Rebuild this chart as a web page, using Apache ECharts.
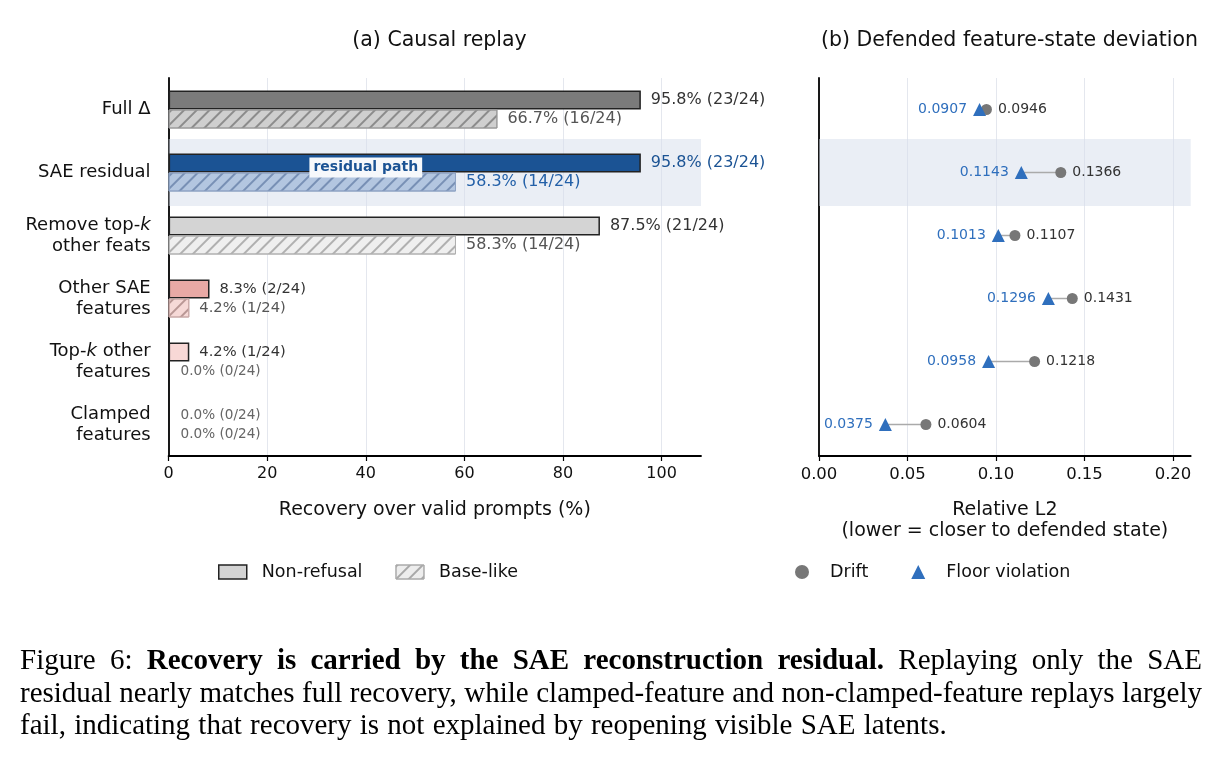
<!DOCTYPE html>
<html>
<head>
<meta charset="utf-8">
<script src="https://cdn.jsdelivr.net/npm/echarts@6/dist/echarts.min.js"></script>
<style>
  body { margin: 0; background: #fff; }
  #container { width: 1220px; height: 761px; }
  #caption {
    position: absolute; left: 20px; top: 643px; width: 1182px;
    font-family: "Liberation Serif", serif; font-size: 29px; line-height: 32.5px; color: #000;
  }
  #caption div { text-align: justify; text-align-last: justify; white-space: nowrap; }
  #caption div.last { text-align-last: left; word-spacing: 1px; }
</style>
</head>
<body>
<div id="container"></div>
<div id="caption">
  <div>Figure 6: <b>Recovery is carried by the SAE reconstruction residual.</b> Replaying only the SAE</div>
  <div>residual nearly matches full recovery, while clamped-feature and non-clamped-feature replays largely</div>
  <div class="last">fail, indicating that recovery is not explained by reopening visible SAE latents.</div>
</div>
<script>
const container = document.getElementById('container');
const chart = echarts.init(container, undefined, { renderer: 'canvas' });

// 数据
const categories = ['Full Δ', 'SAE residual', 'Remove top-k other feats', 'Other SAE features', 'Top-k other features', 'Clamped features'];
const nonRefusal = [95.8, 95.8, 87.5, 8.3, 4.2, 0.0];
const nonRefusalN = [23, 23, 21, 2, 1, 0];
const baseLike = [66.7, 58.3, 58.3, 4.2, 0.0, 0.0];
const baseLikeN = [16, 14, 14, 1, 0, 0];
const totalPrompts = 24;
const driftVals = [0.0946, 0.1366, 0.1107, 0.1431, 0.1218, 0.0604];
const floorVals = [0.0907, 0.1143, 0.1013, 0.1296, 0.0958, 0.0375];
const recoveryTicks = [0, 20, 40, 60, 80, 100];
const l2Ticks = [0, 0.05, 0.10, 0.15, 0.20];
const highlightRow = 'SAE residual';

// y轴文字 (k 为斜体)
const yLabelText = {
  'Full Δ': 'Full Δ',
  'SAE residual': 'SAE residual',
  'Remove top-k other feats': 'Remove top-{it|k}\nother feats',
  'Other SAE features': 'Other SAE\nfeatures',
  'Top-k other features': 'Top-{it|k} other\nfeatures',
  'Clamped features': 'Clamped\nfeatures'
};

// 样式
const topFill = ['#7b7b7b', '#1b5394', '#d4d4d4', '#e8a9a5', '#f8d8d6', '#f8d8d6'];
const baseFill = ['#cfcfcf', '#b3c6e0', '#efefef', '#f6d9d7', '#f6d9d7', '#f6d9d7'];
const baseEdge = ['#9a9a9a', '#8ea3c4', '#b0b0b0', '#c9a9a7', '#c9a9a7', '#c9a9a7'];
const hatchCol = ['#8c8c8c', '#7890b5', '#b0b0b0', '#b99795', '#b99795', '#b99795'];
const topLabelCol = ['#333', '#1b5394', '#333', '#333', '#333', '#666'];
const baseLabelCol = ['#555', '#2360a8', '#555', '#555', '#666', '#666'];

const hatch = (c) => ({
  symbol: 'rect', symbolSize: 1, color: c,
  dashArrayX: [1, 0], dashArrayY: [1.2, 6.8], rotation: -Math.PI / 4
});
const labelSize = (v, i) => (v === 0 ? 13.6 : (i < 3 ? 16 : 14.7));
const pctLabel = (v, n) => v.toFixed(1) + '% (' + n + '/' + totalPrompts + ')';

const topData = categories.map((c, i) => ({
  value: nonRefusal[i],
  itemStyle: { color: topFill[i], borderColor: '#222', borderWidth: nonRefusal[i] === 0 ? 0 : 1.5 },
  label: { color: topLabelCol[i], fontSize: labelSize(nonRefusal[i], i), distance: nonRefusal[i] === 0 ? 12 : 10 }
}));
const baseData = categories.map((c, i) => ({
  value: baseLike[i],
  itemStyle: { color: baseFill[i], borderColor: baseEdge[i], borderWidth: baseLike[i] === 0 ? 0 : 1, decal: hatch(hatchCol[i]) },
  label: { color: baseLabelCol[i], fontSize: labelSize(baseLike[i], i), distance: baseLike[i] === 0 ? 12 : 10 }
}));

const axisLineStyle = { show: true, lineStyle: { color: '#000', width: 1.8 } };
const splitStyle = { show: true, lineStyle: { color: '#e4e7ee', width: 1 } };

const option = {
  animation: false,
  textStyle: { fontFamily: 'DejaVu Sans' },
  title: [
    { text: '(a) Causal replay', left: 434.5, top: 25, textAlign: 'center',
      textStyle: { fontSize: 20.5, fontWeight: 'normal', color: '#111' } },
    { text: '(b) Defended feature-state deviation', left: 1004.5, top: 25, textAlign: 'center',
      textStyle: { fontSize: 20.5, fontWeight: 'normal', color: '#111' } }
  ],
  legend: [
    {
      left: 213, top: 558, itemWidth: 28, itemHeight: 14, itemGap: 33, selectedMode: false,
      textStyle: { fontSize: 17.5, color: '#111', padding: [0, 0, 0, 10] },
      data: [
        { name: 'Non-refusal', icon: 'rect', itemStyle: { color: '#d3d3d3', borderColor: '#222', borderWidth: 1.5 } },
        { name: 'Base-like', icon: 'rect', itemStyle: { color: '#ededed', borderColor: '#aaa', borderWidth: 1, decal: hatch('#a8a8a8') } }
      ]
    },
    {
      left: 790, top: 558, itemWidth: 14, itemHeight: 14, itemGap: 43, selectedMode: false,
      textStyle: { fontSize: 17.5, color: '#111', padding: [0, 0, 0, 16] },
      data: [
        { name: 'Drift', icon: 'circle', itemStyle: { color: '#777' } },
        { name: 'Floor violation', icon: 'triangle', itemStyle: { color: '#2f6fbd' } }
      ]
    }
  ],
  grid: [
    { left: 168.6, right: 519, top: 78, bottom: 305 },
    { left: 819, right: 29.3, top: 78, bottom: 305 }
  ],
  xAxis: [
    {
      type: 'value', gridIndex: 0, min: 0, max: 108, interval: 20,
      name: 'Recovery over valid prompts (%)', nameLocation: 'middle', nameGap: 45,
      nameTextStyle: { fontSize: 19, color: '#111' },
      axisLine: axisLineStyle,
      axisTick: { show: true, length: 5, lineStyle: { color: '#000', width: 1.2 }, customValues: recoveryTicks },
      axisLabel: { fontSize: 16, color: '#111', margin: 10, customValues: recoveryTicks },
      splitLine: splitStyle
    },
    {
      type: 'value', gridIndex: 1, min: 0, max: 0.21, interval: 0.05,
      name: 'Relative L2\n(lower = closer to defended state)', nameLocation: 'middle', nameGap: 44,
      nameTextStyle: { fontSize: 19, color: '#111', lineHeight: 21 },
      axisLine: axisLineStyle,
      axisTick: { show: true, length: 5, lineStyle: { color: '#000', width: 1.2 }, customValues: l2Ticks },
      axisLabel: { fontSize: 16.5, color: '#111', margin: 10, customValues: l2Ticks, formatter: (v) => v.toFixed(2) },
      splitLine: splitStyle
    }
  ],
  yAxis: [
    {
      type: 'category', gridIndex: 0, inverse: true, data: categories,
      axisLine: axisLineStyle, axisTick: { show: false },
      axisLabel: {
        fontSize: 18, lineHeight: 21, color: '#111', margin: 18, align: 'right',
        formatter: (v) => yLabelText[v],
        rich: { it: { fontStyle: 'italic', fontSize: 18, lineHeight: 21, color: '#111', fontFamily: 'DejaVu Sans' } }
      },
      splitLine: { show: false }
    },
    {
      type: 'category', gridIndex: 1, inverse: true, data: categories,
      axisLine: axisLineStyle, axisTick: { show: false }, axisLabel: { show: false }, splitLine: { show: false }
    },
    { type: 'category', gridIndex: 0, inverse: true, data: categories, show: false },
    { type: 'category', gridIndex: 1, inverse: true, data: categories, show: false }
  ],
  series: [
    {
      type: 'bar', xAxisIndex: 0, yAxisIndex: 2, barWidth: 67, silent: true, z: 1,
      itemStyle: { color: 'rgba(214,222,235,0.5)' },
      data: categories.map((c) => (c === highlightRow ? 108 : null))
    },
    {
      type: 'bar', xAxisIndex: 1, yAxisIndex: 3, barWidth: 67, silent: true, z: 1,
      itemStyle: { color: 'rgba(214,222,235,0.5)' },
      data: categories.map((c) => (c === highlightRow ? 0.21 : null))
    },
    {
      name: 'Non-refusal', type: 'bar', xAxisIndex: 0, yAxisIndex: 0, barWidth: 19, barGap: '0%', z: 3,
      label: { show: true, position: 'right', formatter: (p) => pctLabel(nonRefusal[p.dataIndex], nonRefusalN[p.dataIndex]) },
      data: topData
    },
    {
      name: 'Base-like', type: 'bar', xAxisIndex: 0, yAxisIndex: 0, barWidth: 19, barGap: '0%', z: 3,
      label: { show: true, position: 'right', formatter: (p) => pctLabel(baseLike[p.dataIndex], baseLikeN[p.dataIndex]) },
      data: baseData
    },
    {
      type: 'scatter', xAxisIndex: 0, yAxisIndex: 0, symbolSize: 0, z: 10, silent: true,
      itemStyle: { opacity: 1 },
      data: [[40, highlightRow]],
      label: {
        show: true, position: 'inside', offset: [0, -5], formatter: 'residual path',
        fontSize: 14, fontWeight: 'bold', color: '#1b5394', opacity: 1,
        backgroundColor: '#f6f8fb', padding: [3, 4]
      }
    },
    {
      type: 'custom', xAxisIndex: 1, yAxisIndex: 1, z: 2, silent: true,
      encode: { x: [0, 1], y: 2 },
      data: categories.map((c, i) => [floorVals[i], driftVals[i], i]),
      renderItem: (params, api) => {
        const y = api.value(2);
        const a = api.coord([api.value(0), y]);
        const b = api.coord([api.value(1), y]);
        return { type: 'line', shape: { x1: a[0], y1: a[1], x2: b[0], y2: b[1] }, style: { stroke: '#aaaaaa', lineWidth: 1.5 } };
      }
    },
    {
      name: 'Drift', type: 'scatter', xAxisIndex: 1, yAxisIndex: 1, symbol: 'circle', symbolSize: 11, z: 4,
      itemStyle: { color: '#777', opacity: 1 },
      label: { show: true, position: 'right', distance: 6, fontSize: 14, color: '#333', formatter: (p) => p.value[0].toFixed(4) },
      data: categories.map((c, i) => [driftVals[i], c])
    },
    {
      name: 'Floor violation', type: 'scatter', xAxisIndex: 1, yAxisIndex: 1, symbol: 'triangle', symbolSize: 13, z: 5,
      itemStyle: { color: '#2f6fbd', opacity: 1 },
      label: { show: true, position: 'left', distance: 6, fontSize: 14, color: '#2f6fbd', formatter: (p) => p.value[0].toFixed(4) },
      data: categories.map((c, i) => [floorVals[i], c])
    }
  ]
};

chart.setOption(option);
</script>
</body>
</html>
